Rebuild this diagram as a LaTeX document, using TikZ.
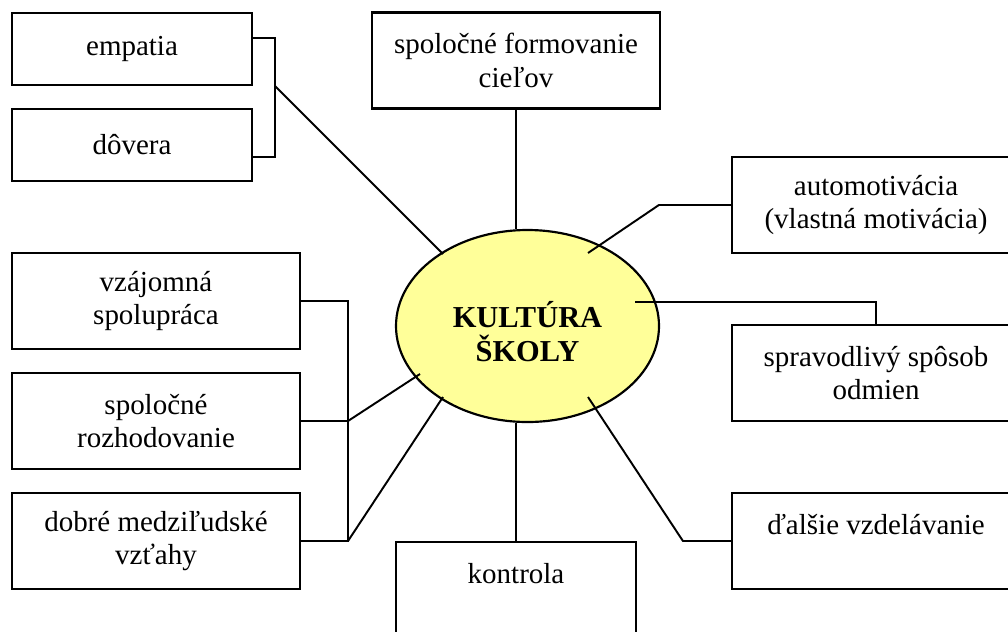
\documentclass[tikz,border=0pt]{standalone}
\usepackage{fontspec}
\setmainfont{Liberation Serif}
\usetikzlibrary{calc,shapes.geometric}
\definecolor{corefill}{HTML}{FFFF99}
\newcommand{\unitpx}{0.414pt}

\begin{document}
\begin{tikzpicture}[
    x=\unitpx, y=-\unitpx,
    box/.style={
        rectangle,
        draw=black,
        line width=0.9pt,
        fill=white,
        align=center,
        inner sep=0pt,
        font=\fontsize{12}{13.8}\selectfont
    },
    widebox/.style={box, minimum width=288*\unitpx, minimum height=96*\unitpx},
    smallbox/.style={box, minimum width=240*\unitpx, minimum height=72*\unitpx},
    core/.style={
        ellipse,
        draw=black,
        fill=corefill,
        line width=0.9pt,
        minimum width=263*\unitpx,
        minimum height=192*\unitpx,
        inner sep=0pt,
        align=center,
        font=\fontsize{12.6}{13.9}\selectfont\bfseries
    },
    link/.style={line width=0.8pt}
]
    \useasboundingbox (0,0) rectangle (1008,631);
    \clip (0,0) rectangle (1008,631);

    % Left top: empatia, dôvera
    \node[smallbox] (empatia) at (132,49) {empatia};
    \node[smallbox] (dovera) at (132,145) {dôvera};

    % Top
    \node[widebox] (ciele) at (516,60.5) {spoločné formovanie\\cieľov};

    % Right side
    \node[widebox] (auto) at (876,205) {automotivácia\\(vlastná motivácia)};
    \node[widebox] (odmeny) at (876,373) {spravodlivý spôsob\\odmien};
    \node[widebox] (vzdelavanie) at (876,541) {ďalšie vzdelávanie\\~};

    % Bottom
    \node[box, minimum width=240*\unitpx, minimum height=96*\unitpx] (kontrola) at (516,590) {kontrola\\~};

    % Left bottom group
    \node[widebox] (spolupraca) at (156,301) {vzájomná\\spolupráca};
    \node[widebox] (rozhodovanie) at (156,421) {spoločné\\rozhodovanie};
    \node[widebox] (vztahy) at (156,541) {dobré medziľudské\\vzťahy};

    % Centre
    \node[core] (kultura) at (527.5,326) {\rule{0pt}{15.6pt}KULTÚRA\\ŠKOLY};

    % End points inside the ellipse
    \coordinate (kEmp) at ($(kultura)+(-84.5,-72)$);
    \coordinate (kAuto) at ($(kultura)+(60.5,-73)$);
    \coordinate (kOdm) at ($(kultura)+(107.5,-24)$);
    \coordinate (kVzd) at ($(kultura)+(60.5,71)$);
    \coordinate (kRoz) at ($(kultura)+(-107.5,48)$);
    \coordinate (kVzt) at ($(kultura)+(-84.5,71)$);

    % Connectors
    \coordinate (jTrust) at (275,86);
    \draw[link] ($(empatia.east)+(0,-11)$) -| (jTrust) |- ($(dovera.east)+(0,12)$);
    \draw[link] (jTrust) -- (kEmp);

    \draw[link] (ciele.south) -- (ciele.south |- kultura.north);
    \draw[link] (auto.west) -- ++(-72,0) -- (kAuto);
    \draw[link] (odmeny.north) |- (kOdm);
    \draw[link] (vzdelavanie.west) -- ++(-48,0) -- (kVzd);
    \draw[link] (kontrola.north) -- (kontrola.north |- kultura.south);

    \coordinate (jTeam) at (348,421);
    \draw[link] (spolupraca.east) -| (jTeam) |- (vztahy.east);
    \draw[link] (rozhodovanie.east) -- (jTeam);
    \draw[link] (jTeam) -- (kRoz);
    \draw[link] (vztahy.east -| jTeam) -- (kVzt);
\end{tikzpicture}
\end{document}
